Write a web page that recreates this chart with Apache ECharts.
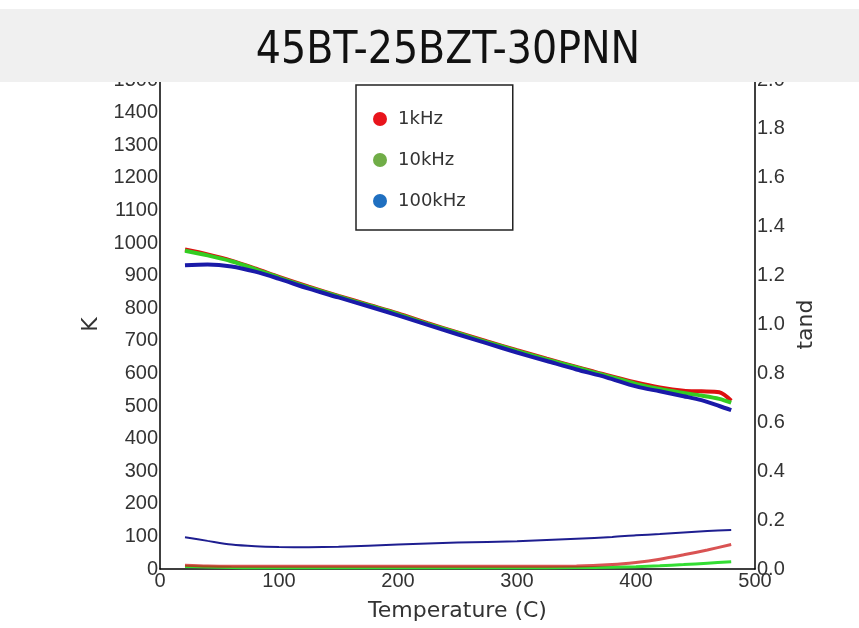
<!DOCTYPE html>
<html>
<head>
<meta charset="utf-8">
<script src="https://cdn.jsdelivr.net/npm/echarts@6/dist/echarts.min.js"></script>
<style>html,body{margin:0;padding:0;background:#fff;}#c{width:859px;height:628px;}</style>
</head>
<body>
<div id="c"></div>
<script>
// ---- data ----
var titleText = "45BT-25BZT-30PNN";
var seriesNames = ["1kHz", "10kHz", "100kHz"];
var legendColors = ["#e8141c", "#70ad47", "#1f6fc0"];

// permittivity K vs temperature
var tempK = [21, 40, 60, 80, 100, 125, 150, 175, 200, 225, 250, 275, 300, 325, 350, 375, 400, 420, 440, 455, 470, 480];
var k1kHz = [980, 965, 946, 922, 896, 866, 838, 811, 784, 754, 726, 698, 671, 645, 620, 595, 572, 557, 547, 545, 542, 516];
var k10kHz = [976, 962, 944, 920, 894, 864, 836, 809, 782, 752, 724, 696, 669, 643, 618, 593, 568, 552, 540, 532, 522, 510];
var k100kHz = [932, 934, 928, 912, 890, 860, 833, 806, 778, 749, 720, 692, 664, 638, 612, 588, 560, 545, 530, 518, 500, 487];

// loss tangent vs temperature
var tempTan = [21, 40, 60, 80, 100, 125, 150, 200, 250, 300, 350, 380, 400, 420, 440, 460, 480];
var tan1kHz = [0.015, 0.012, 0.011, 0.011, 0.011, 0.011, 0.011, 0.011, 0.011, 0.011, 0.012, 0.018, 0.027, 0.04, 0.058, 0.078, 0.1];
var tan10kHz = [0.01, 0.008, 0.006, 0.005, 0.005, 0.005, 0.005, 0.005, 0.005, 0.005, 0.006, 0.007, 0.009, 0.013, 0.018, 0.024, 0.03];
var tan100kHz = [0.13, 0.115, 0.1, 0.093, 0.09, 0.089, 0.091, 0.1, 0.108, 0.114, 0.124, 0.131, 0.138, 0.143, 0.149, 0.155, 0.16];

var xTicks = [0, 100, 200, 300, 400, 500];

function pairs(xs, ys) { return xs.map(function (x, i) { return [x, ys[i]]; }); }

var chart = echarts.init(document.getElementById('c'), null, {renderer: 'canvas'});
var tickFont = "'Liberation Sans', Arial, sans-serif";
var nameFont = "'DejaVu Sans', sans-serif";

function lineSeries(name, yIdx, xs, ys, color, width, z, opacity) {
  return {
    name: name, type: 'line', yAxisIndex: yIdx, data: pairs(xs, ys),
    showSymbol: false, smooth: 0.3, z: z, silent: true,
    lineStyle: {color: color, width: width, opacity: opacity == null ? 1 : opacity},
    itemStyle: {color: color}
  };
}

var option = {
  animation: false,
  backgroundColor: '#ffffff',
  title: {
    text: titleText, left: 443, top: 47, textAlign: 'center', textVerticalAlign: 'middle', z: 60,
    textStyle: {fontFamily: "'Liberation Sans Narrow', 'DejaVu Sans Condensed', sans-serif", fontSize: 44, fontWeight: 'normal', color: '#111'}
  },
  graphic: [{
    type: 'rect', z: 50, silent: true,
    shape: {x: 0, y: 9, width: 859, height: 73},
    style: {fill: '#f0f0f0'}
  }],
  legend: {
    orient: 'vertical', left: 356, top: 85, selectedMode: false,
    padding: [25, 47, 20, 17], itemGap: 23, itemWidth: 14, itemHeight: 14,
    borderColor: '#222', borderWidth: 1.5, backgroundColor: '#fff',
    textStyle: {fontFamily: nameFont, fontSize: 18, color: '#333', lineHeight: 14, padding: [0, 0, 0, 6]},
    data: seriesNames.map(function (n, i) { return {name: n, icon: 'circle', itemStyle: {color: legendColors[i]}}; })
  },
  grid: {left: 160, right: 104, top: 80, bottom: 59, containLabel: false},
  xAxis: {
    type: 'value', min: xTicks[0], max: xTicks[xTicks.length - 1], interval: 100,
    name: 'Temperature (C)', nameLocation: 'middle', nameGap: 31,
    nameTextStyle: {fontFamily: nameFont, fontSize: 22, color: '#333'},
    axisLine: {lineStyle: {color: '#000', width: 1.5}},
    axisTick: {show: false}, splitLine: {show: false},
    axisLabel: {fontFamily: tickFont, fontSize: 20, color: '#333', margin: 2,
      formatter: function (v) { return String(v); }}
  },
  yAxis: [{
    type: 'value', min: 0, max: 1500, interval: 100, position: 'left',
    name: 'K', nameLocation: 'middle', nameGap: 54, nameRotate: 90,
    nameTextStyle: {fontFamily: nameFont, fontSize: 22, color: '#333'},
    axisLine: {show: true, lineStyle: {color: '#000', width: 1.5}},
    axisTick: {show: false}, splitLine: {show: false},
    axisLabel: {fontFamily: tickFont, fontSize: 20, color: '#333', margin: 2,
      formatter: function (v) { return String(v); }}
  }, {
    type: 'value', min: 0, max: 2.0, interval: 0.2, position: 'right',
    name: 'tand', nameLocation: 'middle', nameGap: 37, nameRotate: 90,
    nameTextStyle: {fontFamily: nameFont, fontSize: 22, color: '#333'},
    axisLine: {show: true, lineStyle: {color: '#000', width: 1.5}},
    axisTick: {show: false}, splitLine: {show: false},
    axisLabel: {fontFamily: tickFont, fontSize: 20, color: '#333', margin: 2,
      formatter: function (v) { return v.toFixed(1); }}
  }],
  series: [
    lineSeries('1kHz', 0, tempK, k1kHz, '#dd1010', 4, 2),
    lineSeries('10kHz', 0, tempK, k10kHz, '#33cc22', 4, 3),
    lineSeries('100kHz', 0, tempK, k100kHz, '#1a1aa8', 4, 4),
    lineSeries('10kHz', 1, tempTan, tan10kHz, '#33dd33', 3, 2),
    lineSeries('1kHz', 1, tempTan, tan1kHz, '#cc1a1a', 3, 3, 0.75),
    lineSeries('100kHz', 1, tempTan, tan100kHz, '#1e1e90', 2, 4)
  ]
};
chart.setOption(option);
</script>
</body>
</html>
